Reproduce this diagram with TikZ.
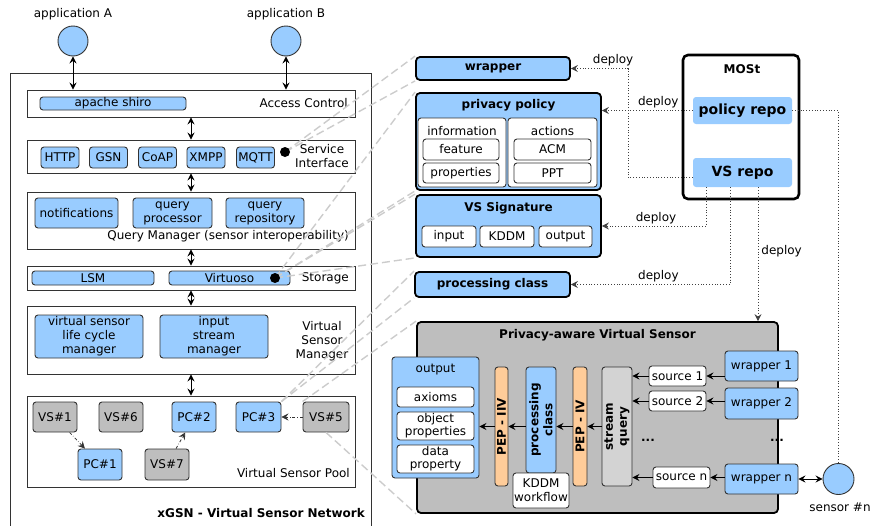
\documentclass[tikz,border=0pt]{standalone}
\usepackage{fontspec}
\setmainfont{DejaVu Sans}
\usetikzlibrary{arrows.meta, positioning, calc}
\definecolor{vsblue}{HTML}{99CCFF}
\definecolor{vsgrey}{HTML}{BEBEBE}
\definecolor{querygrey}{HTML}{D3D3D3}
\definecolor{peporange}{HTML}{FFCC99}
\definecolor{linkgrey}{HTML}{CCCCCC}
\definecolor{edgedark}{HTML}{333333}

\tikzset{
  every node/.style={font=\fontsize{12}{14}\selectfont, inner sep=0pt},
  wh/.style 2 args={minimum width=#1pt, minimum height=#2pt},
  layerbox/.style={draw=edgedark, fill=white, line width=0.9pt},
  compbox/.style={draw=edgedark, fill=vsblue, rounded corners=3pt, line width=0.9pt, align=center},
  vsbox/.style={compbox, fill=vsgrey},
  fieldbox/.style={draw=edgedark, fill=white, rounded corners=3pt, line width=0.9pt, align=center},
  cardbox/.style={draw=black, fill=vsblue, rounded corners=4pt, line width=1.8pt},
  boldtext/.style={font=\fontsize{12}{14}\selectfont\bfseries},
  repobox/.style={fill=vsblue, rounded corners=3pt, font=\fontsize{14}{16}\selectfont\bfseries},
  pepbar/.style={draw=edgedark, fill=peporange, rounded corners=3pt, line width=0.9pt, rotate=90, boldtext},
  hubdot/.style={circle, fill=black, minimum size=10pt},
  endpoint/.style={circle, draw=edgedark, fill=vsblue, line width=0.9pt, minimum size=30pt},
  linkline/.style={draw=linkgrey, line width=1.4pt, dash pattern=on 8pt off 4pt},
  deployline/.style={draw=black!75, dotted, line width=0.8pt, -{Stealth[length=7pt, width=7pt, inset=2.5pt]}},
  poolarrow/.style={draw=edgedark, dash dot, line width=0.8pt, -{Stealth[length=7pt, width=7pt, inset=2.5pt]}},
}

\begin{document}
\begin{tikzpicture}[x=1pt, y=-1pt, >={Stealth[length=7pt, width=7pt, inset=2.5pt]}]
    \useasboundingbox (0,0) rectangle (870,525);

    % Applications
    \node[endpoint] (appA) at (73,41) {};
    \node (appAlbl) at (73,14) {application A};
    \node[endpoint] (appB) at (286,41) {};
    \node (appBlbl) at (286,14) {application B};

    % xGSN layers
    \node[layerbox, wh={361}{462}] (xgsn) at (190.5,304) {};
    \node[anchor=east, boldtext] (xgsnlbl) at (365,513) {xGSN - Virtual Sensor Network};

    \node[layerbox, wh={328}{27}] (acc) at (191,103.5) {};
    \node[compbox, wh={146}{13}] (shiro) at (113,103.5) {apache shiro};
    \node[anchor=east] (acclbl) at (348,103.5) {Access Control};

    \node[layerbox, wh={328}{33}] (si) at (191,156.5) {};
    \foreach \p/\x in {HTTP/60, GSN/108.5, CoAP/157.5, XMPP/206, MQTT/255.5} {
        \node[compbox, wh={38}{21}] (p-\p) at (\x,157.5) {\p};
    }
    \node[align=center] (silbl) at (322,156) {Service\\Interface};

    \node[layerbox, wh={328}{57}] (qm) at (191,220.5) {};
    \node[compbox, wh={83}{30}] (notif) at (76.5,213) {notifications};
    \node[compbox, wh={79}{30}] (qproc) at (172.5,213) {query\\processor};
    \node[compbox, wh={78}{30}] (qrepo) at (265,213) {query\\repository};
    \node[anchor=east] (qmlbl) at (349,236) {Query Manager (sensor interoperability)};

    \node[layerbox, wh={328}{24}] (st) at (191,278) {};
    \node[compbox, wh={122}{14}] (lsm) at (93,278) {LSM};
    \node[compbox, wh={121}{14}] (virtuoso) at (229.5,278) {Virtuoso};
    \node[anchor=east] (stlbl) at (349,278) {Storage};

    \node[layerbox, wh={328}{68}] (vsm) at (191,340) {};
    \node[compbox, wh={108}{43}] (lifecycle) at (89,336.5) {virtual sensor\\life cycle\\manager};
    \node[compbox, wh={108}{43}] (ismgr) at (214,336.5) {input\\stream\\manager};
    \node[align=center] (vsmlbl) at (322,341) {Virtual\\Sensor\\Manager};

    \node[layerbox, wh={328}{91}] (vsp) at (191,441.5) {};
    \node[vsbox, wh={44}{30}] (vs1) at (55,417) {VS\#1};
    \node[vsbox, wh={44}{30}] (vs6) at (121,417) {VS\#6};
    \node[compbox, wh={44}{30}] (pc2) at (194,417) {PC\#2};
    \node[compbox, wh={45}{30}] (pc3) at (258.5,417) {PC\#3};
    \node[vsbox, wh={46}{30}] (vs5) at (326,417) {VS\#5};
    \node[compbox, wh={44}{31}] (pc1) at (100,464.5) {PC\#1};
    \node[vsbox, wh={44}{31}] (vs7) at (167,464.5) {VS\#7};
    \node[anchor=east] (vsplbl) at (350,473) {Virtual Sensor Pool};

    \draw[<->, line width=0.9pt] (appA) -- (appA |- acc.north);
    \draw[<->, line width=0.9pt] (appB) -- (appB |- acc.north);
    \foreach \a/\b in {acc/si, si/qm, qm/st, st/vsm, vsm/vsp} {
        \draw[<->, line width=0.9pt] (\a) -- (\b);
    }
    \draw[poolarrow] (vs1) -- (pc1);
    \draw[poolarrow] (vs7) -- (pc2);
    \draw[poolarrow] (vs5) -- (pc3);

    % Artefacts
    \node[cardbox, wh={154}{23}, boldtext] (wrap) at (493,68.5) {wrapper};

    \node[cardbox, wh={185}{97}] (pp) at (508.5,141.5) {};
    \node[boldtext] (pplbl) at (508.5,105) {privacy policy};
    \node[fieldbox, wh={88}{69}] (ppinfo) at (462,152.5) {};
    \node[fieldbox, wh={89}{69}] (ppact) at (552.5,152.5) {};
    \node (infolbl) at (462,131) {information};
    \node (actlbl) at (552.5,131) {actions};
    \node[fieldbox, wh={76}{21}] (feat) at (461,149.5) {feature};
    \node[fieldbox, wh={76}{20}] (props) at (461,173) {properties};
    \node[fieldbox, wh={77}{21}] (acm) at (552.5,149.5) {ACM};
    \node[fieldbox, wh={77}{20}] (ppt) at (552.5,173) {PPT};

    \node[cardbox, wh={185}{62}] (vss) at (508.5,226) {};
    \node[boldtext] (vsslbl) at (508.5,208) {VS Signature};
    \node[fieldbox, wh={54}{21}] (vsin) at (449,236.5) {input};
    \node[fieldbox, wh={54}{21}] (vskddm) at (507,236.5) {KDDM};
    \node[fieldbox, wh={53}{21}] (vsout) at (565.5,236.5) {output};

    \node[cardbox, wh={155}{25}, boldtext] (pc) at (492.5,284.5) {processing class};

    % MOSt
    \node[draw=black, fill=white, rounded corners=5pt, line width=2.6pt, wh={116}{144}] (most) at (741,127) {};
    \node[boldtext] (mostlbl) at (742,69) {MOSt};
    \node[repobox, wh={99}{27}] (policyrepo) at (742.5,110.5) {policy repo};
    \node[repobox, wh={99}{29}] (vsrepo) at (742.5,172.5) {VS repo};

    % Privacy-aware Virtual Sensor
    \node[draw=black, fill=vsgrey, rounded corners=4pt, line width=1.8pt, wh={361}{191}] (pavs) at (597.5,417.5) {};
    \node[boldtext] (pavslbl) at (597.5,335) {Privacy-aware Virtual Sensor};

    \node[compbox, wh={87}{121}] (out) at (435.5,417.5) {};
    \node (outlbl) at (435.5,370) {output};
    \node[fieldbox, wh={77}{20}] (axioms) at (435.5,397) {axioms};
    \node[fieldbox, wh={77}{28}, font=\fontsize{12}{13}\selectfont] (objprop) at (435.5,426) {object\\properties};
    \node[fieldbox, wh={77}{28}, font=\fontsize{12}{13}\selectfont] (dataprop) at (435.5,459) {data\\property};

    % rotated bars: north is the left side, south the right side
    \node[pepbar, wh={119}{13}] (pepiiv) at (501.5,426.5) {PEP - IIV};
    \node[compbox, rotate=90, boldtext, wh={106}{30}] (pcls) at (541,420) {processing\\class};
    \node[fieldbox, wh={56}{35}] (kddmwf) at (541,490.5) {KDDM\\workflow};
    \node[pepbar, wh={119}{14}] (pepiv) at (580,426.5) {PEP - IV};
    \node[compbox, fill=querygrey, rotate=90, boldtext, wh={119}{30}] (sq) at (617,426.5) {stream\\query};

    \node[fieldbox, wh={57}{20}] (src1) at (677.5,376) {source 1};
    \node[fieldbox, wh={57}{20}] (src2) at (677.5,401) {source 2};
    \node[fieldbox, wh={57}{21}] (srcn) at (681.5,477.5) {source n};
    \node[compbox, wh={73}{30}] (wr1) at (761.5,366) {wrapper 1};
    \node[compbox, wh={73}{31}] (wr2) at (761.5,403.5) {wrapper 2};
    \node[compbox, wh={73}{30}] (wrn) at (761.5,479) {wrapper n};
    \node[boldtext] (dotsA) at (648,440) {...};
    \node[boldtext] (dotsB) at (777,440) {...};

    \node[endpoint, minimum size=31pt] (sensor) at (838.5,479) {};
    \node (sensorlbl) at (840,507) {sensor \#n};

    \foreach \s/\w in {src1/wr1, src2/wr2, srcn/wrn} {
        \draw[->, line width=0.9pt] (\s.east -| \w.west) -- (\s.east);
        \draw[->, line width=0.9pt] (\s.west) -- (\s.west -| sq.south);
    }
    \draw[->, line width=0.9pt] (sq.north) -- (sq.north -| pepiv.south);
    \draw[->, line width=0.9pt] (pepiv.north) -- (pepiv.north -| pcls.south);
    \draw[->, line width=0.9pt] (pepiv.north -| pcls.north) -- (pepiv.north -| pepiiv.south);
    \draw[->, line width=0.9pt] (pepiiv.north) -- (pepiiv.north -| out.east);
    \draw[<->, line width=0.9pt] (wrn) -- (sensor);

    % Deployment
    \draw[deployline] ([yshift=-5pt]vsrepo.west) -| ([xshift=57pt]wrap.east) -- node[pos=0.26, above=2pt] {deploy} (wrap.east);
    \draw[deployline] (policyrepo.west) -- node[pos=0.38, above=2pt] {deploy} (policyrepo.west -| pp.east);
    \draw[deployline] ([xshift=-36.5pt]vsrepo.south) |- node[pos=0.74, above=2pt] {deploy} (vss.east);
    \draw[deployline] ([xshift=-12.5pt]vsrepo.south) |- node[pos=0.725, above=2pt] {deploy} (pc.east);
    \draw[deployline] ([xshift=15.5pt]vsrepo.south) -- node[pos=0.48, right=3pt] {deploy} ([xshift=15.5pt]vsrepo.south |- pavs.north);
    \draw[deployline, -] (policyrepo.east) -| (sensor.north);

    % Zoom links
    \coordinate (sidot) at (285,152);
    \coordinate (vdot) at (275,278);
    \foreach \s/\t in {sidot/wrap.north west, sidot/wrap.south west,
                       vdot/pp.north west, vdot/pp.south west, vdot/vss.north west, vdot/vss.south west,
                       pc3.north east/pc.north west, pc3.north east/pc.south west,
                       vs5.north west/pavs.north west, vs5.south/pavs.south west} {
        \draw[linkline] (\s) -- (\t);
    }
    \node[hubdot] (sidotn) at (sidot) {};
    \node[hubdot] (vdotn) at (vdot) {};
\end{tikzpicture}
\end{document}
